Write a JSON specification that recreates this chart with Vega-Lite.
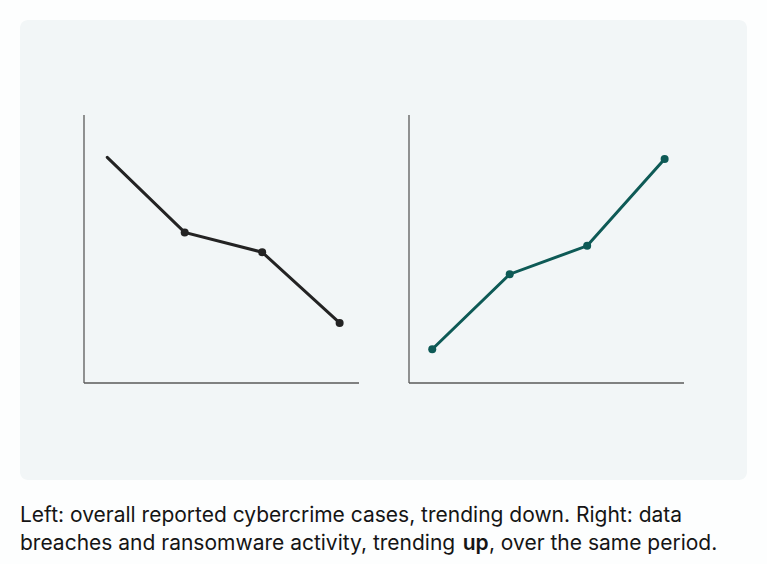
{
  "$schema": "https://vega.github.io/schema/vega-lite/v6.json",
  "background": "#fdfefe",
  "padding": {"left": 20, "top": 20, "right": 20, "bottom": 0},
  "spacing": 0,
  "config": {"view": {"stroke": null}, "font": "Inter"},
  "datasets": {
    "overall": [
      {"period": 1, "value": 84.2},
      {"period": 2, "value": 56.2},
      {"period": 3, "value": 48.8},
      {"period": 4, "value": 22.4}
    ],
    "breaches": [
      {"period": 1, "value": 12.6},
      {"period": 2, "value": 40.6},
      {"period": 3, "value": 51.2},
      {"period": 4, "value": 83.6}
    ],
    "frame": [
      {"period": 0.7, "period_end": 4.25, "value": 0, "value_end": 100}
    ]
  },
  "vconcat": [
    {
      "width": 727,
      "height": 460,
      "view": {"fill": "#f2f6f7", "cornerRadius": 8, "stroke": null},
      "layer": [
        {
          "layer": [
            {
              "data": {"name": "frame"},
              "mark": {"type": "rule", "color": "#5a5a5a", "strokeWidth": 1.3},
              "encoding": {
                "x": {"field": "period", "type": "quantitative", "axis": null,
                      "scale": {"domain": [0.7, 4.25], "range": [64, 339], "nice": false, "zero": false}},
                "y": {"field": "value", "type": "quantitative", "axis": null,
                      "scale": {"domain": [0, 100], "range": [363, 95], "nice": false}},
                "y2": {"field": "value_end"}
              }
            },
            {
              "data": {"name": "frame"},
              "mark": {"type": "rule", "color": "#5a5a5a", "strokeWidth": 1.3},
              "encoding": {
                "x": {"field": "period", "type": "quantitative", "axis": null},
                "x2": {"field": "period_end"},
                "y": {"field": "value", "type": "quantitative", "axis": null}
              }
            },
            {
              "data": {"name": "overall"},
              "mark": {"type": "line", "color": "#232323", "strokeWidth": 3, "strokeCap": "round"},
              "encoding": {
                "x": {"field": "period", "type": "quantitative", "axis": null},
                "y": {"field": "value", "type": "quantitative", "axis": null}
              }
            },
            {
              "data": {"name": "overall"},
              "transform": [{"filter": "datum.period > 1"}],
              "mark": {"type": "circle", "color": "#232323", "size": 64, "opacity": 1},
              "encoding": {
                "x": {"field": "period", "type": "quantitative", "axis": null},
                "y": {"field": "value", "type": "quantitative", "axis": null}
              }
            }
          ]
        },
        {
          "layer": [
            {
              "data": {"name": "frame"},
              "mark": {"type": "rule", "color": "#5a5a5a", "strokeWidth": 1.3},
              "encoding": {
                "x": {"field": "period", "type": "quantitative", "axis": null,
                      "scale": {"domain": [0.7, 4.25], "range": [389, 664], "nice": false, "zero": false}},
                "y": {"field": "value", "type": "quantitative", "axis": null,
                      "scale": {"domain": [0, 100], "range": [363, 95], "nice": false}},
                "y2": {"field": "value_end"}
              }
            },
            {
              "data": {"name": "frame"},
              "mark": {"type": "rule", "color": "#5a5a5a", "strokeWidth": 1.3},
              "encoding": {
                "x": {"field": "period", "type": "quantitative", "axis": null},
                "x2": {"field": "period_end"},
                "y": {"field": "value", "type": "quantitative", "axis": null}
              }
            },
            {
              "data": {"name": "breaches"},
              "mark": {"type": "line", "color": "#0e5a56", "strokeWidth": 3, "strokeCap": "round"},
              "encoding": {
                "x": {"field": "period", "type": "quantitative", "axis": null},
                "y": {"field": "value", "type": "quantitative", "axis": null}
              }
            },
            {
              "data": {"name": "breaches"},
              "mark": {"type": "circle", "color": "#0e5a56", "size": 64, "opacity": 1},
              "encoding": {
                "x": {"field": "period", "type": "quantitative", "axis": null},
                "y": {"field": "value", "type": "quantitative", "axis": null}
              }
            }
          ]
        }
      ],
      "resolve": {"scale": {"x": "independent", "y": "independent"}}
    },
    {
      "width": 727,
      "height": 84,
      "data": {"values": [{}]},
      "encoding": {
        "x": {"datum": 0, "type": "quantitative", "axis": null, "scale": {"domain": [0, 1], "nice": false}},
        "y": {"datum": 1, "type": "quantitative", "axis": null,
              "scale": {"domain": [-0.5, 2.5], "reverse": true, "nice": false, "zero": false}}
      },
      "layer": [
        {
          "mark": {"type": "text", "align": "left", "baseline": "alphabetic", "fontSize": 21, "color": "#151515"},
          "encoding": {"text": {"value": "Left: overall reported cybercrime cases, trending down. Right: data"}}
        },
        {
          "mark": {"type": "text", "align": "left", "baseline": "alphabetic", "fontSize": 21, "color": "#151515"},
          "encoding": {"y": {"datum": 2}, "text": {"value": "breaches and ransomware activity, trending "}}
        },
        {
          "mark": {"type": "text", "align": "left", "baseline": "alphabetic", "fontSize": 21, "fontWeight": 600, "color": "#151515"},
          "encoding": {"x": {"datum": 0.609}, "y": {"datum": 2}, "text": {"value": "up"}}
        },
        {
          "mark": {"type": "text", "align": "left", "baseline": "alphabetic", "fontSize": 21, "color": "#151515"},
          "encoding": {"x": {"datum": 0.645}, "y": {"datum": 2}, "text": {"value": ", over the same period."}}
        }
      ]
    }
  ]
}
